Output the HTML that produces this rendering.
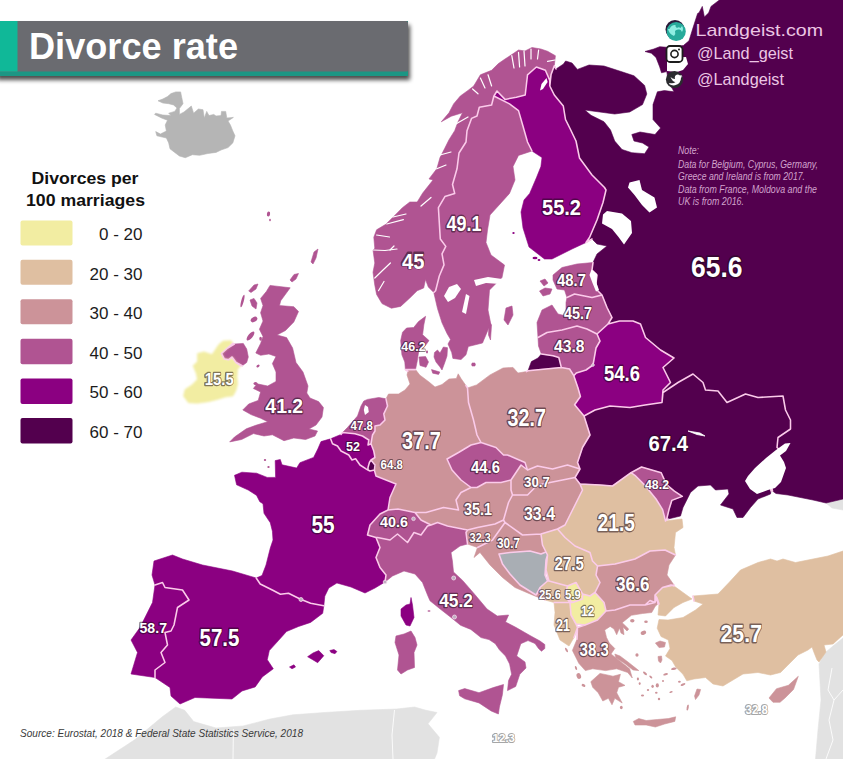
<!DOCTYPE html><html><head><meta charset="utf-8"><title>Divorce rate</title><style>
html,body{margin:0;padding:0;background:#fff;}body{width:843px;height:759px;overflow:hidden;position:relative;font-family:"Liberation Sans",sans-serif;}
svg{position:absolute;left:0;top:0;display:block}
.c{stroke:#fbcbea;stroke-width:1.4;stroke-linejoin:round}
.lb{font-family:"Liberation Sans",sans-serif;font-weight:bold;fill:#fff;}
.lg{font-family:"Liberation Sans",sans-serif;font-size:17px;fill:#1c1c1c;text-anchor:end}
.lt{font-family:"Liberation Sans",sans-serif;font-size:17px;font-weight:bold;fill:#111;text-anchor:middle}
.nt{font-family:"Liberation Sans",sans-serif;font-size:10px;font-style:italic;fill:#d2a3cd}
.so{font-family:"Liberation Sans",sans-serif;font-size:11px;font-style:italic;fill:#3a3a3a}
.tw{font-family:"Liberation Sans",sans-serif;font-size:17px;fill:#ecc6e4}
</style></head><body>
<svg width="843" height="759" viewBox="0 0 843 759">
<defs><filter id="sh" x="-20%" y="-20%" width="140%" height="160%"><feGaussianBlur in="SourceAlpha" stdDeviation="2.2"/><feOffset dx="2" dy="3.5"/><feComponentTransfer><feFuncA type="linear" slope=".7"/></feComponentTransfer><feMerge><feMergeNode/><feMergeNode in="SourceGraphic"/></feMerge></filter>
<filter id="halo" filterUnits="userSpaceOnUse" x="0" y="0" width="843" height="759"><feGaussianBlur stdDeviation=".55"/></filter><filter id="b1"><feGaussianBlur stdDeviation=".9"/></filter></defs>
<rect width="843" height="759" fill="#fff"/>
<path d="M96,765 L135,739.6 L162,717 L175.7,707 L184.7,710.3 L193.7,721.6 L216,728 L243,726 L270,719 L293,714.8 L324.4,712.5 L360.5,710.3 L396.6,709 L414.6,707 L426,710.3 L437,712.5 L428,723.8 L439.4,737.3 L437,753 L432,765Z" fill="#e2e2e2" stroke="#e2e2e2" stroke-width=".6" stroke-linejoin="round"/>
<path d="M826,652 L833,646 L843,638 L860,630 L860,765 L815,765 L818,730 L821,700 L819,664 L823,656Z" fill="#e2e2e2" stroke="#e2e2e2" stroke-width=".6" stroke-linejoin="round"/>
<path d="M826,503 L843,499 L860,499 L860,512 L843,510 L832,508Z" fill="#e2e2e2" stroke="#e2e2e2" stroke-width=".6" stroke-linejoin="round"/>
<path d="M158,100.8 L162.8,99 L167.5,96.6 L171,93.6 L175.8,91.9 L180.6,91.9 L181.8,97.8 L183,103.7 L179.4,108.5 L179.4,114.4 L184,112 L191.3,106 L193.6,113.2 L198.4,109 L203,109.7 L204.3,118 L206.7,111.4 L209,115.6 L213.8,114.4 L216,116 L221,115.6 L221.5,111.4 L225.7,111.4 L226.8,118 L233.4,117.4 L228,121 L230.4,125 L232.8,131 L235,135.8 L232.8,142.9 L228,147.6 L221,150 L216,152.4 L207.9,153.5 L199.6,155.3 L192.4,154.7 L185.3,157.7 L179.4,156 L174.7,152.4 L170,148.8 L168.7,142.9 L166.4,138 L156.9,135.8 L155.7,131.6 L160.4,134 L166.4,131 L165.2,125 L167.5,120.3 L161.6,118 L154.5,114.4 L155.7,113.2 L162.8,115 L171,115.6 L168.7,113.2 L174.7,111.4 L177,107.9 L173.5,104.9 L168.7,103.7 L162.8,103Z" fill="#b5b5b5" stroke="#b5b5b5" stroke-width=".6" stroke-linejoin="round"/>
<path d="M554.3,65.8 L556,69 L563.5,64 L565.6,61 L572,63 L577.4,69.4 L589,65 L604,66 L621,71.5 L634,75.8 L644.6,85.4 L646.8,94 L642.5,104.6 L629.7,112 L614.7,114 L599.8,112 L584.8,110 L591,115.3 L604,121.7 L610.5,130 L614.7,141 L622,149.5 L631.8,152.7 L644.6,153.7 L649,147 L642.5,143 L634,141 L631.8,134.5 L640,132 L655,134.5 L660.6,128 L653,119.6 L653,104.6 L657.4,91.8 L664.4,90.6 L674,91.8 L672,88 L668,80 L666.8,71.6 L661.5,72.8 L659.7,66.9 L656,57.4 L651.4,53.2 L645,51.5 L653.8,49 L659.7,46.7 L666.8,47.3 L683.4,45.5 L689,40.8 L693,27.8 L697.6,13.5 L699,12.8 L702.3,6.4 L704.4,17 L708.7,12.8 L711,6.4 L722,-2 L722,-10 L860,-10 L860,499 L843,499 L826,503 L813,500 L788,495 L776,493.5 L772.5,491 L770,480 L775,460 L780,450 L777,447.5 L778,437.5 L790.5,429 L790.5,420 L785.5,410 L783,396 L758,397.5 L745.5,394 L727,402.5 L718,391 L705.5,390 L703,382.5 L693,374 L678,382.5 L663,392.5 L662,402.5 L663,390 L670.5,382.5 L663,367.5 L674,358 L660.5,350 L645.5,337.5 L640.5,324 L633,321 L619.5,321 L608,324 L612,317.5 L607,307.5 L602,295 L597,290 L596,283 L597,275 L592,270 L593,262.5 L597,254 L607,246 L597,244 L592,239 L586,242.5 L589.5,237.5 L597,220 L603,202.5 L606,190 L604.5,187.5 L592,175 L579.5,158 L576,141 L570,128.5 L565.5,119.5 L563.3,106 L554.3,95 L549.8,86 L551,74.8Z" fill="#53004e" stroke="#53004e" stroke-width=".6" stroke-linejoin="round"/>
<path d="M528,370.7 L531.4,361.6 L538,358 L541.4,354 L553,355.8 L558.8,357.4 L561.3,367.4Z" fill="#53004e" stroke="#53004e" stroke-width=".6" stroke-linejoin="round"/>
<path d="M584,416 L595,410 L610,406 L630,407.5 L645,405 L662,402.5 L663,392.5 L678,382.5 L693,374 L703,382.5 L705.5,390 L718,391 L727,402.5 L745.5,394 L758,397.5 L783,396 L785.5,410 L790.5,420 L790.5,429 L778,437.5 L777,447.5 L780,450 L775,460 L770,480 L771,491 L770.5,494 L758,499 L750.5,507.5 L743,517.5 L737,517.5 L733,509 L720.5,505 L729,494 L728,489 L715.5,490 L710.5,485 L698,486 L690.5,492.5 L683,507.5 L680.5,516 L668,519 L665.5,521 L666.5,520 L669,509.6 L671.8,500.4 L682.3,496.4 L674.4,491.2 L666.5,484.6 L661.2,472.7 L641.5,467 L631,472.7 L612.5,486 L600,485 L580,484 L575,477.5 L580,469 L577.5,462.5 L582.5,447.5 L590,435Z" fill="#53004e" stroke="#53004e" stroke-width=".6" stroke-linejoin="round"/>
<path d="M593,365 L594.5,356.6 L596,348 L600,341 L597,334 L608,324 L619.5,321 L633,321 L640.5,324 L645.5,337.5 L660.5,350 L674,358 L663,367.5 L670.5,382.5 L663,390 L662,402.5 L645,405 L630,407.5 L610,406 L595,410 L584,416 L574.6,404.8 L580.4,396.5 L578,388 L573.8,375.7 L576.3,373 L586,370Z" fill="#8b0081" stroke="#8b0081" stroke-width=".6" stroke-linejoin="round"/>
<path d="M553,275 L562,267.5 L577,264 L593,262.5 L592,270 L597,275 L596,283 L597,290 L602,295 L592,297.5 L574.5,294 L567,297.5 L564.5,290 L557,289 L553,280Z" fill="#b05492" stroke="#b05492" stroke-width=".6" stroke-linejoin="round"/>
<path d="M539.5,291 L545,288 L552,289 L550,294 L543,296Z" fill="#b05492" stroke="#b05492" stroke-width=".6" stroke-linejoin="round"/>
<path d="M540,281 L545,279 L548,283 L544,286Z" fill="#b05492" stroke="#b05492" stroke-width=".6" stroke-linejoin="round"/>
<path d="M567,297.5 L574.5,294 L592,297.5 L602,295 L607,307.5 L612,317.5 L608,324 L597,334 L587,329 L577,326 L562,330 L547,332.5 L538,337.5 L537,322.5 L542,310 L552,305 L558,314 L566,316 L566,302.5Z" fill="#b05492" stroke="#b05492" stroke-width=".6" stroke-linejoin="round"/>
<path d="M538,337.5 L547,332.5 L562,330 L577,326 L587,329 L597,334 L600,341 L596,348 L594.5,356.6 L593,365 L586,370 L576.3,373 L573.8,375.7 L569.6,369 L561.3,367.4 L558.8,357.4 L553,355.8 L541.4,354 L538.5,346Z" fill="#b05492" stroke="#b05492" stroke-width=".6" stroke-linejoin="round"/>
<path d="M467.5,388 L476.6,384.9 L490,374.9 L503,368 L513,367.4 L518,373 L526.4,371.6 L528,370.7 L561.3,367.4 L569.6,369 L573.8,375.7 L578,388 L580.4,396.5 L574.6,404.8 L584,416 L590,435 L582.5,447.5 L577.5,462.5 L580,469 L567.5,465 L552.5,469 L537.5,466 L527.5,470 L525,462.5 L507.5,455 L503.5,455 L496,447.5 L481,442.5 L477,435 L473.5,420 L468.5,402.5Z" fill="#cc9399" stroke="#cc9399" stroke-width=".6" stroke-linejoin="round"/>
<path d="M405.4,369.6 L415.5,369.6 L419.7,375 L429,382 L435,387 L442,384.5 L449,379 L456.4,378.5 L458.2,373.8 L461,378.5 L466,385.7 L467.5,388 L468.5,402.5 L473.5,420 L477,435 L481,442.5 L471,445 L458.5,452.5 L447,459 L452,470 L461,480 L471,487.5 L461,492.5 L456,500 L458.5,510 L443.5,507.5 L426,512.5 L415,512.5 L398,509 L388,510 L390,497.5 L396,484 L376,476 L374.4,470 L375,465 L371,460 L375,457.5 L373.8,451 L371,443.8 L372.5,435 L375,431 L375,426 L380,425 L385,420 L383.8,413.8 L387.5,406 L386,398.8 L388.5,394 L398.5,394 L405,390 L410,384 L407,375 L407.8,371.4Z" fill="#cc9399" stroke="#cc9399" stroke-width=".6" stroke-linejoin="round"/>
<path d="M363.8,401 L367.5,399.4 L378.8,397.5 L386,398.8 L387.5,406 L383.8,413.8 L385,420 L380,425 L375,426 L375,431 L372.5,435 L371,443.8 L368,445 L368.8,440 L362.5,436 L355,433.8 L342.5,432.5 L347.5,427.5 L357.5,416 L361,406Z" fill="#b05492" stroke="#b05492" stroke-width=".6" stroke-linejoin="round"/>
<path d="M330.6,438.8 L341,434.4 L342.5,432.5 L355,433.8 L362.5,436 L368.8,440 L368,445 L371,443.8 L373.8,451 L375,457.5 L371,460 L369.4,462.5 L368,467.5 L368,470 L366,468.8 L360,465 L355.6,458.8 L352,460 L348.8,455 L341,451 L337.5,446 L332.5,443.8Z" fill="#8b0081" stroke="#8b0081" stroke-width=".6" stroke-linejoin="round"/>
<path d="M371,460 L375,465 L374.4,470 L370,471 L368,470 L368,467.5 L369.4,462.5Z" fill="#53004e" stroke="#53004e" stroke-width=".6" stroke-linejoin="round"/>
<path d="M405.4,369.6 L404.8,362 L401.9,354.8 L400.7,340.6 L402.5,332.3 L406.6,328 L413.7,327.5 L418.5,321.6 L425.6,316.3 L423.8,325 L422.6,334.7 L429,340.6 L425.6,345.3 L418.5,352.5 L417.3,360.8 L415.5,369.6Z" fill="#b05492" stroke="#b05492" stroke-width=".6" stroke-linejoin="round"/>
<path d="M419,357 L425.6,356.6 L428.5,362 L426,367.3 L420,365.5Z" fill="#b05492" stroke="#b05492" stroke-width=".6" stroke-linejoin="round"/>
<path d="M434.5,352.5 L437.5,350 L440,353 L443.4,347 L447.5,347.7 L447,356 L444.6,363 L442,370 L439.8,366.7 L436,362 L434,357Z" fill="#b05492" stroke="#b05492" stroke-width=".6" stroke-linejoin="round"/>
<path d="M431.5,369.6 L439.8,372 L438.6,374.4 L432.7,373.2Z" fill="#b05492" stroke="#b05492" stroke-width=".6" stroke-linejoin="round"/>
<path d="M472,363 L475,363 L475,366 L472,366Z" fill="#b05492" stroke="#b05492" stroke-width=".6" stroke-linejoin="round"/>
<path d="M554.3,65.8 L555.4,55.7 L547.6,51.3 L540.9,49 L532,47.5 L525,51 L518.5,50 L511.8,54.6 L505,59 L498.4,63.6 L491.6,70.3 L480.4,74.8 L473.7,86 L468,90.4 L460.3,96 L453.6,103.9 L449,112.8 L441.3,121.8 L451.3,116.2 L462.5,112.8 L458,121.8 L454.7,130.7 L449,139.7 L444.6,148.6 L440,157.6 L436.8,168.8 L429,178.9 L433,180 L422.7,193 L417.2,202 L409.8,202 L402.4,207.7 L393.2,217 L385.8,224.3 L376.6,229.8 L373.8,237.2 L374.8,248.3 L373,250 L374.8,263 L373,272.3 L374.8,285.2 L376.6,294.4 L382,303.6 L391.4,308.2 L400.6,306.4 L409.8,298 L417.2,290.7 L423.7,288 L425.5,279.6 L428.3,287 L433.8,292.5 L435.6,290.7 L439.3,276 L444,264.9 L442,253.8 L445.8,246.4 L440.3,239 L438.4,207.7 L444.9,196.6 L454.7,193.4 L452.5,184.5 L457,168.8 L459,153 L466,142 L467,130.7 L471.5,118.4 L477,116 L479.3,107.2 L491.6,105 L493.9,96 L497,91 L505,99.4 L516.3,97.2 L525.2,95 L527.5,74.8 L536.4,67 L545.4,70.3 L549.8,80.4 L549.8,86 L551,74.8Z" fill="#b05492" stroke="#b05492" stroke-width=".6" stroke-linejoin="round"/>
<path d="M493.9,96 L491.6,105 L479.3,107.2 L477,116 L471.5,118.4 L467,130.7 L466,142 L459,153 L457,168.8 L452.5,184.5 L454.7,193.4 L444.9,196.6 L438.4,207.7 L440.3,239 L445.8,246.4 L442,253.8 L444,264.9 L439.3,276 L435.6,290.7 L433.8,292.5 L437.5,308.6 L442,322.8 L447,333.5 L450.5,339.4 L448,344 L451.7,352.5 L452.9,358.4 L461,359.6 L466,354.8 L468.3,346.5 L482.5,343 L488.5,328.7 L491,325 L488,310 L489.5,290 L502,277.5 L504.5,265 L491,255 L486,242.5 L487.5,230 L490,215 L500,204 L509.5,193.4 L515,180 L513,166.6 L518.5,155.4 L532,151 L527.5,142 L523,126.3 L518.5,110.6 L509.5,103.9 L493.9,96Z" fill="#b05492" stroke="#b05492" stroke-width=".6" stroke-linejoin="round"/>
<path d="M506,308 L512,306 L513,315 L508,325 L504,320Z" fill="#b05492" stroke="#b05492" stroke-width=".6" stroke-linejoin="round"/>
<path d="M489,322 L491.5,325 L490.5,340 L488.5,335Z" fill="#b05492" stroke="#b05492" stroke-width=".6" stroke-linejoin="round"/>
<path d="M493.9,96 L497,91 L505,99.4 L516.3,97.2 L525.2,95 L527.5,74.8 L536.4,67 L545.4,70.3 L549.8,80.4 L549.8,86 L554.3,95 L563.3,106 L565.5,119.5 L570,128.5 L576,141 L579.5,158 L592,175 L604.5,187.5 L606,190 L603,202.5 L597,220 L589.5,237.5 L586,242.5 L572,249 L552,259 L544.5,259 L529,247 L523,228 L521,212 L524,200 L529.7,193.4 L536.4,177.8 L540.9,166.6 L542,157.6 L532,151 L527.5,142 L523,126.3 L518.5,110.6 L509.5,103.9Z" fill="#8b0081" stroke="#8b0081" stroke-width=".6" stroke-linejoin="round"/>
<path d="M270,285.4 L290.2,287.8 L280.7,300.8 L279.5,305.6 L293.8,306.7 L298.5,311.5 L293.8,322 L285.5,330.5 L277,335 L286.6,337.6 L292.6,348 L296,362.5 L303,372 L308,386 L306.8,393 L310,398 L318.6,401.6 L323.4,407.5 L322,417 L316,425 L309,429 L317.5,431 L315,436 L305.6,439.5 L293.8,438 L284,440.7 L272.4,434.8 L264,436 L253.5,433.6 L241.6,439.5 L229.7,441.9 L234.5,437 L246.3,428.8 L255.8,425.3 L267.7,421.7 L260.6,418.2 L251,414.6 L242.8,409.9 L248.7,404 L258.2,400.4 L260.6,392 L253.4,388.5 L257,383.8 L267.7,386 L276,381.4 L276,372 L272.4,363.6 L276,356.5 L268.9,354 L260.6,355.3 L255.8,353 L260.6,343.5 L263,336.4 L259.4,329.3 L263,321 L260.6,312.7 L263,305.6 L260.6,298.4 L266.5,291.3Z" fill="#b05492" stroke="#b05492" stroke-width=".6" stroke-linejoin="round"/>
<path d="M221.5,353.5 L227.6,348 L234.4,344 L243.3,343.4 L246.7,349 L248.3,357 L246.7,362.5 L242.2,365.8 L236,362.5 L232,357 L228.8,359.7 L224.3,359Z" fill="#b05492" stroke="#b05492" stroke-width=".6" stroke-linejoin="round"/>
<path d="M218.7,344.6 L223,341 L231,340.6 L233,343.4 L227.6,348 L221.5,353.5 L224.3,359 L228.8,359.7 L232,357 L236,362.5 L241,365.8 L237.7,369 L237,377 L237.7,383.8 L236,390.5 L233,396 L225.4,397 L217.6,399.4 L208.6,401.7 L197.4,403.3 L188.4,402.8 L183.4,396 L185,389.4 L191.8,384.9 L197.4,379.3 L196.3,373.7 L193,365.8 L197.4,361.4 L197.4,353.5 L204,351.8 L212,354.6 L216.4,348Z" fill="#f2eda2" stroke="#f2eda2" stroke-width=".6" stroke-linejoin="round" filter="url(#b1)"/>
<path d="M311,262 L314,252 L318,249 L316,258 L313,264Z" fill="#b05492" stroke="#b05492" stroke-width=".6" stroke-linejoin="round"/>
<path d="M290,280 L294,274.5 L298.5,273.5 L296,279 L292,282Z" fill="#b05492" stroke="#b05492" stroke-width=".6" stroke-linejoin="round"/>
<path d="M248.7,291 L254,285 L258,284 L256,289 L251,292.5Z" fill="#b05492" stroke="#b05492" stroke-width=".6" stroke-linejoin="round"/>
<path d="M250,300 L254,298.4 L257,303 L256,309 L252,306Z" fill="#b05492" stroke="#b05492" stroke-width=".6" stroke-linejoin="round"/>
<path d="M234.5,475.3 L241.9,472.2 L256.6,473.2 L267.2,477.4 L275.6,477.4 L275.2,460.6 L280.3,459.5 L282,464.8 L296.7,468 L299.9,462.7 L313.6,457.4 L317.8,449 L321,441.6 L330.6,438.8 L332.5,443.8 L337.5,446 L341,451 L348.8,455 L352,460 L355.6,458.8 L360,465 L366,468.8 L368,470 L370,471 L374.4,470 L376,476 L396,484 L390,497.5 L388,510 L380,514 L370,525 L367.5,535 L376,537.5 L380,547.5 L376,557.5 L380,567.5 L386,575 L385,582 L375,588 L365,593 L351,587 L336.9,583 L328.8,588 L324.8,596.2 L323.8,605.8 L310.6,603.3 L300.6,599.2 L288.5,593.2 L280.4,594.2 L272.3,590 L260.2,584 L256.2,578 L262,575.5 L266,565 L270.3,548 L273,540 L272.4,531.2 L270.3,522.8 L264,513.3 L263,503.8 L259.8,501.7 L256.6,495.4 L248.2,490 L236.6,484.8Z" fill="#8b0081" stroke="#8b0081" stroke-width=".6" stroke-linejoin="round"/>
<path d="M411,597.5 L412.5,605 L414,617.5 L410,626 L406,625 L401,616 L401,609 L406,605 L410,604Z" fill="#8b0081" stroke="#8b0081" stroke-width=".6" stroke-linejoin="round"/>
<path d="M154,561 L172.5,555 L182.5,559 L202.5,565 L232.5,571 L256.2,578 L260.2,584 L272.3,590 L280.4,594.2 L288.5,593.2 L300.6,599.2 L310.6,603.3 L323.8,605.8 L322.7,613.3 L310.6,622.4 L298.5,626.5 L286.5,631.5 L278.4,640.6 L269.3,650.6 L267.3,659.7 L273.3,668.8 L262.3,676.9 L255.2,686.9 L242,691 L232,699 L195,697.5 L180,704 L171,696 L170,687.5 L155,677.5 L155,670 L165,662.5 L161,652.5 L167.5,645 L165,632.5 L171,631 L174,625 L177.5,607.5 L189,600 L182.5,590 L165,587.5 L162.5,582.5 L155,585 L152,575Z" fill="#8b0081" stroke="#8b0081" stroke-width=".6" stroke-linejoin="round"/>
<path d="M155,585 L162.5,582.5 L165,587.5 L182.5,590 L189,600 L177.5,607.5 L174,625 L171,631 L165,632.5 L167.5,645 L161,652.5 L165,662.5 L155,670 L155,677.5 L131,674 L137.5,652.5 L131,640 L140,627.5 L152.5,602.5Z" fill="#8b0081" stroke="#8b0081" stroke-width=".6" stroke-linejoin="round"/>
<path d="M307.6,656.7 L313,653 L318.7,650.6 L323.8,655.7 L317.7,662.7 L312.7,659.7Z" fill="#8b0081" stroke="#8b0081" stroke-width=".6" stroke-linejoin="round"/>
<path d="M289.5,667 L294,664.8 L295.5,667 L292,668.8Z" fill="#8b0081" stroke="#8b0081" stroke-width=".6" stroke-linejoin="round"/>
<path d="M329.8,650.5 L334,649.6 L336.9,651.5 L335,653.7 L331,652.5Z" fill="#8b0081" stroke="#8b0081" stroke-width=".6" stroke-linejoin="round"/>
<path d="M388,510 L398,509 L415,512.5 L421,520 L431,525 L427.5,526 L421,535 L414,532.5 L407.5,542.5 L397.5,534 L390,540 L377.5,537.5 L376,537.5 L367.5,535 L370,525 L380,514Z" fill="#b05492" stroke="#b05492" stroke-width=".6" stroke-linejoin="round"/>
<path d="M471,487.5 L477,487.5 L486,482.5 L501,482.5 L511,480 L511,490 L512.5,495 L508.5,502.5 L503.5,520 L495,524 L477.5,527.5 L467.5,530 L447.5,526 L437.5,522.5 L431,525 L421,520 L415,512.5 L426,512.5 L443.5,507.5 L458.5,510 L456,500 L461,492.5Z" fill="#cc9399" stroke="#cc9399" stroke-width=".6" stroke-linejoin="round"/>
<path d="M481,442.5 L496,447.5 L503.5,455 L507.5,455 L525,462.5 L527.5,470 L521,465 L511,480 L501,482.5 L486,482.5 L477,487.5 L471,487.5 L461,480 L452,470 L447,459 L458.5,452.5 L471,445Z" fill="#b05492" stroke="#b05492" stroke-width=".6" stroke-linejoin="round"/>
<path d="M511,480 L521,465 L527.5,470 L537.5,466 L552.5,469 L567.5,465 L580,469 L575,477.5 L562.5,480 L537.5,485 L527.5,495 L512.5,495 L511,490Z" fill="#cc9399" stroke="#cc9399" stroke-width=".6" stroke-linejoin="round"/>
<path d="M512.5,495 L527.5,495 L537.5,485 L562.5,480 L575,477.5 L580,484 L582.5,490 L572.5,510 L565,525 L557.5,529 L541,534 L522.5,535 L505,522.5 L503.5,520 L508.5,502.5Z" fill="#cc9399" stroke="#cc9399" stroke-width=".6" stroke-linejoin="round"/>
<path d="M467.5,530 L477.5,527.5 L495,524 L503.5,520 L505,522.5 L492.5,540 L477.5,547.5 L467.5,544 L466,532.5Z" fill="#cc9399" stroke="#cc9399" stroke-width=".6" stroke-linejoin="round"/>
<path d="M477.5,547.5 L492.5,540 L505,522.5 L522.5,535 L541,534 L542.5,545 L546,552 L541,554 L530,551 L510,552.5 L499,554 L502.5,564 L510,574 L520,585 L536,595 L540,590 L545,600 L532.5,595 L515,587.5 L502.5,577.5 L490,565 L480,552.5 L474,557.5Z" fill="#cc9399" stroke="#cc9399" stroke-width=".6" stroke-linejoin="round"/>
<path d="M499,554 L510,552.5 L530,551 L541,554 L546,552 L547.5,555 L546,560 L545,575 L547.5,581 L540,587.5 L536,595 L520,585 L510,574 L502.5,564Z" fill="#a9aeb4" stroke="#a9aeb4" stroke-width=".6" stroke-linejoin="round"/>
<path d="M385,582 L392.5,576 L404,571 L415,574 L422.5,582.5 L427.5,595 L430,600.8 L440.2,609 L450.4,617 L460.6,625.3 L470.8,629.4 L481,637.6 L489,639.6 L495.3,643.7 L499.4,649.8 L505.5,656 L509.6,664 L511.6,674.3 L508.6,680.4 L507.5,690.6 L515.7,686.5 L519.8,674.3 L526,668 L525,662 L516.7,656 L520.8,643.7 L528,640.6 L535,643.5 L538.5,648.5 L541.5,651.2 L544.8,648.5 L544.8,644.5 L540,641 L530,635.5 L515.7,627.3 L505.5,622 L508.6,615 L497.3,616 L487,609 L475,594.7 L462.6,580.4 L453.5,572 L452.4,561 L451,552.5 L460,546 L467.5,544 L466,532.5 L467.5,530 L447.5,526 L437.5,522.5 L431,525 L427.5,526 L421,535 L414,532.5 L407.5,542.5 L397.5,534 L390,540 L377.5,537.5 L376,537.5 L380,547.5 L376,557.5 L380,567.5 L386,575Z" fill="#b05492" stroke="#b05492" stroke-width=".6" stroke-linejoin="round"/>
<path d="M458.6,690.6 L464.7,688.6 L479,692.7 L493.3,687.6 L503.5,684.5 L502.4,694.7 L499.4,707 L498.4,714 L491.2,711 L479,702.9 L464.7,698.8 L459.6,695.7Z" fill="#b05492" stroke="#b05492" stroke-width=".6" stroke-linejoin="round"/>
<path d="M404,634 L411,631 L415,637.5 L417,645 L414,652.5 L414.5,667.5 L407.5,670 L401,674 L397.5,670 L399,655 L395,642.5 L396,636Z" fill="#b05492" stroke="#b05492" stroke-width=".6" stroke-linejoin="round"/>
<path d="M541,534 L557.5,529 L565,537.5 L575,546 L590,552.5 L592.5,561 L597.5,566 L596,575 L600,582.5 L595,592.5 L590,596 L582.5,594 L576,582.5 L567.5,586 L560,584 L549,581 L546,570 L547.5,555 L546,552 L542.5,545Z" fill="#dfbfa1" stroke="#dfbfa1" stroke-width=".6" stroke-linejoin="round"/>
<path d="M576,582.5 L582.5,594 L582.5,599 L572.5,602.5 L565,596 L567.5,586Z" fill="#f2eda2" stroke="#f2eda2" stroke-width=".6" stroke-linejoin="round"/>
<path d="M549,581 L560,584 L567.5,586 L565,596 L570,602.5 L554,602.5 L545,600 L540,590 L540,587.5 L547.5,581Z" fill="#dfbfa1" stroke="#dfbfa1" stroke-width=".6" stroke-linejoin="round"/>
<path d="M554,602.5 L570,602.5 L571,615 L576,624 L577.5,627.5 L574,637.5 L569,646 L560,640 L554,625 L555,612.5Z" fill="#dfbfa1" stroke="#dfbfa1" stroke-width=".6" stroke-linejoin="round"/>
<path d="M570,602.5 L572.5,602.5 L582.5,599 L582.5,594 L590,596 L595,592.5 L604,602.5 L606,611 L597.5,620 L585,625 L576,624 L571,615Z" fill="#f2eda2" stroke="#f2eda2" stroke-width=".6" stroke-linejoin="round"/>
<path d="M597.5,566 L615,564 L635,559 L650,551 L665,550 L675.5,555 L669,565 L667,575 L674,585 L662.5,587.5 L655,595 L655,602.5 L645,605 L630,605 L615,610 L606,611 L604,602.5 L595,592.5 L600,582.5 L596,575Z" fill="#cc9399" stroke="#cc9399" stroke-width=".6" stroke-linejoin="round"/>
<path d="M580,484 L600,485 L612.5,486 L631,472.7 L634.9,475.3 L645.4,485.9 L656,499 L662.6,509.6 L665.5,521 L682,519 L683,527.5 L675.5,532.5 L674,547.5 L675.5,555 L665,550 L650,551 L635,559 L615,564 L597.5,566 L592.5,561 L590,552.5 L575,546 L565,537.5 L557.5,529 L565,525 L572.5,510 L582.5,490Z" fill="#dfbfa1" stroke="#dfbfa1" stroke-width=".6" stroke-linejoin="round"/>
<path d="M631,472.7 L641.5,467 L661.2,472.7 L666.5,484.6 L674.4,491.2 L682.3,496.4 L671.8,500.4 L669,509.6 L666.5,520 L665.5,521 L662.6,509.6 L656,499 L645.4,485.9 L634.9,475.3Z" fill="#b05492" stroke="#b05492" stroke-width=".6" stroke-linejoin="round"/>
<path d="M572.4,650.4 L577,639.3 L577.5,627.5 L585,625 L597.5,620 L606,611 L615,610 L630,605 L645,605 L650,600.5 L655,602.5 L657,598 L658,604 L655.4,606 L651.7,612.5 L642.5,613.5 L631.4,615.3 L622.2,622.7 L628.7,629 L627,631 L623,627 L624,634.7 L621,633 L619.5,628 L616.7,634.7 L614,629 L610.2,626.4 L604.7,630 L606.5,637.4 L609.3,643 L614.8,648.5 L611,654 L620.4,661.4 L629.6,668.8 L632.3,678 L627.7,672.5 L616.7,668.8 L605.6,670.6 L592.7,668.8 L585.3,670.6 L578.8,663.3Z" fill="#cc9399" stroke="#cc9399" stroke-width=".6" stroke-linejoin="round"/>
<path d="M590.8,681.7 L600,673.4 L613,676.2 L620.4,674.3 L618.5,681.7 L625,685.4 L618.5,687.3 L616.7,692.8 L622.2,703 L614.8,698.3 L612,704.8 L608.4,698.3 L602.8,701 L598.2,692.8 L592.7,687.3Z" fill="#cc9399" stroke="#cc9399" stroke-width=".6" stroke-linejoin="round"/>
<path d="M633.3,721.4 L638.8,718.6 L646.2,720.5 L657.3,719.5 L668.3,718.6 L675.7,716.8 L674.8,721.4 L664.6,724 L655.4,727 L646.2,725 L635,725Z" fill="#cc9399" stroke="#cc9399" stroke-width=".6" stroke-linejoin="round"/>
<path d="M697,689 L700.6,689.5 L699,695 L695.5,699.5 L694.5,696Z" fill="#cc9399" stroke="#cc9399" stroke-width=".6" stroke-linejoin="round"/>
<path d="M655.4,643 L660,641 L665.5,642.5 L664.5,647 L659,647.6 L657,645Z" fill="#cc9399" stroke="#cc9399" stroke-width=".6" stroke-linejoin="round"/>
<path d="M658,656.5 L661.5,656 L662,660 L660.5,663 L658.5,661Z" fill="#cc9399" stroke="#cc9399" stroke-width=".6" stroke-linejoin="round"/>
<path d="M614.8,654 L620,656 L628,662 L638.8,670.6 L633,670 L624,663 L616,658Z" fill="#cc9399" stroke="#cc9399" stroke-width=".6" stroke-linejoin="round"/>
<path d="M769,698 L776.5,688.7 L788.4,685.3 L798.3,676.3 L793.5,689.5 L785,698 L780,702.3 L773,702.3Z" fill="#cc9399" stroke="#cc9399" stroke-width=".6" stroke-linejoin="round"/>
<path d="M693,596 L718,594 L729,582.5 L740.5,570 L758,562.5 L770.5,559 L777,561 L783,559 L795.5,562.5 L808,560 L828,556 L843,551 L860,548 L860,636 L843,635 L833,644 L824,645 L826,652 L819,662 L817,660 L814,652.5 L812,647 L808,650 L798,655 L788,665 L780.5,672.5 L770.5,675 L758,672.5 L743,674 L733,680 L723,686 L713,684 L705.5,677.5 L694,679 L686.8,680.8 L683,674.3 L675.7,667 L672,660.5 L665.5,656 L670,648.5 L668.3,640 L661,636.5 L657.2,628.2 L659,619.5 L668,620 L683,617.5 L695.5,610 L703,604 L694,601Z" fill="#dfbfa1" stroke="#dfbfa1" stroke-width=".6" stroke-linejoin="round"/>
<path d="M657,598 L655,595 L662.5,587.5 L671,585 L674,586 L683,592.5 L692,599 L683,602.5 L674,607.5 L665.5,616 L658,615 L659,604Z" fill="#dfbfa1" stroke="#dfbfa1" stroke-width=".6" stroke-linejoin="round"/>
<ellipse cx="632.3" cy="620.8" rx="2.2" ry="1.8" fill="#cc9399"/>
<ellipse cx="646" cy="621.8" rx="1.8" ry="1.2" fill="#cc9399"/>
<ellipse cx="643.4" cy="632.8" rx="2.8" ry="2" fill="#cc9399" transform="rotate(-20 643.4 632.8)"/>
<ellipse cx="673.9" cy="668.8" rx="2.8" ry="1.2" fill="#cc9399" transform="rotate(-10 673.9 668.8)"/>
<ellipse cx="665.6" cy="674.3" rx="2.4" ry="1" fill="#cc9399" transform="rotate(-15 665.6 674.3)"/>
<ellipse cx="637" cy="655" rx="1.6" ry="1.8" fill="#cc9399"/>
<ellipse cx="645" cy="673.4" rx="2.4" ry="1.1" fill="#cc9399" transform="rotate(40 645 673.4)"/>
<ellipse cx="650.8" cy="677" rx="1.8" ry="0.9" fill="#cc9399" transform="rotate(40 650.8 677)"/>
<ellipse cx="657.3" cy="685.4" rx="1.6" ry="2.1" fill="#cc9399"/>
<ellipse cx="652.6" cy="686.3" rx="1.2" ry="1.6" fill="#cc9399"/>
<ellipse cx="637.9" cy="679" rx="1.1" ry="1.4" fill="#cc9399"/>
<ellipse cx="639.7" cy="683.6" rx="1" ry="1.4" fill="#cc9399"/>
<ellipse cx="642.5" cy="695.5" rx="1.6" ry="1.1" fill="#cc9399"/>
<ellipse cx="656.3" cy="692.8" rx="1.3" ry="1" fill="#cc9399"/>
<ellipse cx="659" cy="699" rx="1.2" ry="1.2" fill="#cc9399"/>
<ellipse cx="683" cy="684.5" rx="2.6" ry="1" fill="#cc9399" transform="rotate(-25 683 684.5)"/>
<ellipse cx="679.4" cy="681.7" rx="1.4" ry="1" fill="#cc9399"/>
<ellipse cx="687.7" cy="707.5" rx="1" ry="3" fill="#cc9399" transform="rotate(10 687.7 707.5)"/>
<ellipse cx="671" cy="692" rx="1.8" ry="0.9" fill="#cc9399" transform="rotate(-20 671 692)"/>
<ellipse cx="648" cy="690" rx="1.2" ry="1" fill="#cc9399"/>
<ellipse cx="663" cy="681" rx="1" ry="1" fill="#cc9399"/>
<ellipse cx="578.8" cy="676" rx="2.2" ry="3" fill="#cc9399" transform="rotate(-20 578.8 676)"/>
<ellipse cx="583.5" cy="685.4" rx="2" ry="1.4" fill="#cc9399" transform="rotate(30 583.5 685.4)"/>
<ellipse cx="566.5" cy="650" rx="1" ry="2.5" fill="#cc9399" transform="rotate(-30 566.5 650)"/>
<ellipse cx="621.3" cy="707.5" rx="1.4" ry="1.8" fill="#cc9399"/>
<ellipse cx="576" cy="668" rx="1" ry="2" fill="#cc9399" transform="rotate(-20 576 668)"/>
<ellipse cx="268.5" cy="214" rx="1.6" ry="2.5" fill="#b05492" transform="rotate(10 268.5 214)"/>
<ellipse cx="270" cy="220" rx="0.8" ry="1.2" fill="#b05492"/>
<ellipse cx="242.5" cy="301" rx="1.3" ry="6.5" fill="#b05492" transform="rotate(15 242.5 301)"/>
<ellipse cx="254" cy="319.5" rx="3.6" ry="2.4" fill="#b05492" transform="rotate(-30 254 319.5)"/>
<ellipse cx="250.5" cy="336" rx="2.2" ry="5.5" fill="#b05492" transform="rotate(40 250.5 336)"/>
<ellipse cx="260.6" cy="338.8" rx="1.3" ry="2" fill="#b05492"/>
<ellipse cx="258" cy="366" rx="1.8" ry="1.1" fill="#b05492" transform="rotate(-35 258 366)"/>
<ellipse cx="255.5" cy="383.5" rx="2" ry="1.5" fill="#b05492"/>
<ellipse cx="265" cy="460" rx="1.2" ry="1" fill="#b05492"/>
<ellipse cx="268.5" cy="467" rx="1.2" ry="1" fill="#b05492"/>
<ellipse cx="473.5" cy="364.5" rx="2" ry="1.6" fill="#b05492"/>
<ellipse cx="513.5" cy="233" rx="1.2" ry="1" fill="#8b0081"/>
<ellipse cx="535" cy="258" rx="2.5" ry="1.2" fill="#8b0081"/>
<ellipse cx="539" cy="260" rx="1.4" ry="1" fill="#8b0081"/>
<ellipse cx="424" cy="343" rx="1.3" ry="1" fill="#b05492"/>
<ellipse cx="427" cy="352" rx="1" ry="1.4" fill="#b05492"/>
<ellipse cx="429" cy="611" rx="1.5" ry="0.8" fill="#b05492"/>
<path d="M772.5,491 L770,480 L775,460 L780,450 L777,447.5 L778,437.5 L790.5,429 L790.5,420 L785.5,410 L783,396 L758,397.5 L745.5,394 L727,402.5 L718,391 L705.5,390 L703,382.5 L693,374 L678,382.5 L663,392.5 L662,402.5 L663,390 L670.5,382.5 L663,367.5 L674,358 L660.5,350 L645.5,337.5 L640.5,324 L633,321 L619.5,321 L608,324 L612,317.5 L607,307.5 L602,295 L597,290 L596,283 L597,275 L592,270 L593,262.5 M592,239 L586,242.5 L589.5,237.5 L597,220 L603,202.5 L606,190 L604.5,187.5 L592,175 L579.5,158 L576,141 L570,128.5 L565.5,119.5 L563.3,106 L554.3,95 L549.8,86 L551,74.8 L554.3,65.8 L556,69 M541.4,354 L553,355.8 L558.8,357.4 L561.3,367.4 L528,370.7 M668,519 L665.5,521 L666.5,520 L669,509.6 L671.8,500.4 L682.3,496.4 L674.4,491.2 L666.5,484.6 L661.2,472.7 L641.5,467 L631,472.7 L612.5,486 L600,485 L580,484 L575,477.5 L580,469 L577.5,462.5 L582.5,447.5 L590,435 L584,416 L595,410 L610,406 L630,407.5 L645,405 L662,402.5 L663,392.5 L678,382.5 L693,374 L703,382.5 L705.5,390 L718,391 L727,402.5 L745.5,394 L758,397.5 L783,396 L785.5,410 L790.5,420 L790.5,429 L778,437.5 L777,447.5 L780,450 L775,460 L770,480 L771,491 M593,365 L594.5,356.6 L596,348 L600,341 L597,334 L608,324 L619.5,321 L633,321 L640.5,324 L645.5,337.5 L660.5,350 L674,358 L663,367.5 L670.5,382.5 L663,390 L662,402.5 L645,405 L630,407.5 L610,406 L595,410 L584,416 L574.6,404.8 L580.4,396.5 L578,388 L573.8,375.7 L576.3,373 L586,370Z M593,262.5 L592,270 L597,275 L596,283 L597,290 L602,295 L592,297.5 L574.5,294 L567,297.5 M567,297.5 L574.5,294 L592,297.5 L602,295 L607,307.5 L612,317.5 L608,324 L597,334 L587,329 L577,326 L562,330 L547,332.5 L538,337.5 M538,337.5 L547,332.5 L562,330 L577,326 L587,329 L597,334 L600,341 L596,348 L594.5,356.6 L593,365 L586,370 L576.3,373 L573.8,375.7 L569.6,369 L561.3,367.4 L558.8,357.4 L553,355.8 L541.4,354 M526.4,371.6 L528,370.7 L561.3,367.4 L569.6,369 L573.8,375.7 L578,388 L580.4,396.5 L574.6,404.8 L584,416 L590,435 L582.5,447.5 L577.5,462.5 L580,469 L567.5,465 L552.5,469 L537.5,466 L527.5,470 L525,462.5 L507.5,455 L503.5,455 L496,447.5 L481,442.5 L477,435 L473.5,420 L468.5,402.5 L467.5,388 M466,385.7 L467.5,388 L468.5,402.5 L473.5,420 L477,435 L481,442.5 L471,445 L458.5,452.5 L447,459 L452,470 L461,480 L471,487.5 L461,492.5 L456,500 L458.5,510 L443.5,507.5 L426,512.5 L415,512.5 L398,509 L388,510 L390,497.5 L396,484 L376,476 L374.4,470 L375,465 L371,460 L375,457.5 L373.8,451 L371,443.8 L372.5,435 L375,431 L375,426 L380,425 L385,420 L383.8,413.8 L387.5,406 L386,398.8 M407.8,371.4 L405.4,369.6 L415.5,369.6 M386,398.8 L387.5,406 L383.8,413.8 L385,420 L380,425 L375,426 L375,431 L372.5,435 L371,443.8 L368,445 L368.8,440 L362.5,436 L355,433.8 L342.5,432.5 M341,434.4 L342.5,432.5 L355,433.8 L362.5,436 L368.8,440 L368,445 L371,443.8 L373.8,451 L375,457.5 L371,460 L369.4,462.5 L368,467.5 L368,470 L366,468.8 L360,465 L355.6,458.8 L352,460 L348.8,455 L341,451 L337.5,446 L332.5,443.8 L330.6,438.8 M371,460 L375,465 L374.4,470 L370,471 L368,470 L368,467.5 L369.4,462.5Z M415.5,369.6 L405.4,369.6 M433.8,292.5 L435.6,290.7 L439.3,276 L444,264.9 L442,253.8 L445.8,246.4 L440.3,239 L438.4,207.7 L444.9,196.6 L454.7,193.4 L452.5,184.5 L457,168.8 L459,153 L466,142 L467,130.7 L471.5,118.4 L477,116 L479.3,107.2 L491.6,105 L493.9,96 L497,91 L505,99.4 L516.3,97.2 L525.2,95 L527.5,74.8 L536.4,67 L545.4,70.3 L549.8,80.4 L549.8,86 L551,74.8 L554.3,65.8 M532,151 L527.5,142 L523,126.3 L518.5,110.6 L509.5,103.9 L493.9,96 L493.9,96 L491.6,105 L479.3,107.2 L477,116 L471.5,118.4 L467,130.7 L466,142 L459,153 L457,168.8 L452.5,184.5 L454.7,193.4 L444.9,196.6 L438.4,207.7 L440.3,239 L445.8,246.4 L442,253.8 L444,264.9 L439.3,276 L435.6,290.7 L433.8,292.5 M532,151 L527.5,142 L523,126.3 L518.5,110.6 L509.5,103.9 L493.9,96 L497,91 L505,99.4 L516.3,97.2 L525.2,95 L527.5,74.8 L536.4,67 L545.4,70.3 L549.8,80.4 L549.8,86 L554.3,95 L563.3,106 L565.5,119.5 L570,128.5 L576,141 L579.5,158 L592,175 L604.5,187.5 L606,190 L603,202.5 L597,220 L589.5,237.5 L586,242.5 M242.2,365.8 L236,362.5 L232,357 L228.8,359.7 L224.3,359 L221.5,353.5 L227.6,348 L234.4,344 M233,343.4 L227.6,348 L221.5,353.5 L224.3,359 L228.8,359.7 L232,357 L236,362.5 L241,365.8 M330.6,438.8 L332.5,443.8 L337.5,446 L341,451 L348.8,455 L352,460 L355.6,458.8 L360,465 L366,468.8 L368,470 L370,471 L374.4,470 L376,476 L396,484 L390,497.5 L388,510 L380,514 L370,525 L367.5,535 L376,537.5 L380,547.5 L376,557.5 L380,567.5 L386,575 L385,582 M323.8,605.8 L310.6,603.3 L300.6,599.2 L288.5,593.2 L280.4,594.2 L272.3,590 L260.2,584 L256.2,578 M256.2,578 L260.2,584 L272.3,590 L280.4,594.2 L288.5,593.2 L300.6,599.2 L310.6,603.3 L323.8,605.8 M155,677.5 L155,670 L165,662.5 L161,652.5 L167.5,645 L165,632.5 L171,631 L174,625 L177.5,607.5 L189,600 L182.5,590 L165,587.5 L162.5,582.5 L155,585 M155,585 L162.5,582.5 L165,587.5 L182.5,590 L189,600 L177.5,607.5 L174,625 L171,631 L165,632.5 L167.5,645 L161,652.5 L165,662.5 L155,670 L155,677.5 M388,510 L398,509 L415,512.5 L421,520 L431,525 L427.5,526 L421,535 L414,532.5 L407.5,542.5 L397.5,534 L390,540 L377.5,537.5 L376,537.5 L367.5,535 L370,525 L380,514Z M471,487.5 L477,487.5 L486,482.5 L501,482.5 L511,480 L511,490 L512.5,495 L508.5,502.5 L503.5,520 L495,524 L477.5,527.5 L467.5,530 L447.5,526 L437.5,522.5 L431,525 L421,520 L415,512.5 L426,512.5 L443.5,507.5 L458.5,510 L456,500 L461,492.5Z M481,442.5 L496,447.5 L503.5,455 L507.5,455 L525,462.5 L527.5,470 L521,465 L511,480 L501,482.5 L486,482.5 L477,487.5 L471,487.5 L461,480 L452,470 L447,459 L458.5,452.5 L471,445Z M511,480 L521,465 L527.5,470 L537.5,466 L552.5,469 L567.5,465 L580,469 L575,477.5 L562.5,480 L537.5,485 L527.5,495 L512.5,495 L511,490Z M512.5,495 L527.5,495 L537.5,485 L562.5,480 L575,477.5 L580,484 L582.5,490 L572.5,510 L565,525 L557.5,529 L541,534 L522.5,535 L505,522.5 L503.5,520 L508.5,502.5Z M467.5,544 L466,532.5 L467.5,530 L477.5,527.5 L495,524 L503.5,520 L505,522.5 L492.5,540 L477.5,547.5 M477.5,547.5 L492.5,540 L505,522.5 L522.5,535 L541,534 L542.5,545 L546,552 L541,554 L530,551 L510,552.5 L499,554 L502.5,564 L510,574 L520,585 L536,595 L540,590 L545,600 M499,554 L510,552.5 L530,551 L541,554 L546,552 L547.5,555 L546,560 L545,575 L547.5,581 L540,587.5 L536,595 L520,585 L510,574 L502.5,564Z M467.5,544 L466,532.5 L467.5,530 L447.5,526 L437.5,522.5 L431,525 L427.5,526 L421,535 L414,532.5 L407.5,542.5 L397.5,534 L390,540 L377.5,537.5 L376,537.5 L380,547.5 L376,557.5 L380,567.5 L386,575 L385,582 M541,534 L557.5,529 L565,537.5 L575,546 L590,552.5 L592.5,561 L597.5,566 L596,575 L600,582.5 L595,592.5 L590,596 L582.5,594 L576,582.5 L567.5,586 L560,584 L549,581 L546,570 L547.5,555 L546,552 L542.5,545Z M576,582.5 L582.5,594 L582.5,599 L572.5,602.5 L565,596 L567.5,586Z M545,600 L540,590 L540,587.5 L547.5,581 L549,581 L560,584 L567.5,586 L565,596 L570,602.5 L554,602.5 M554,602.5 L570,602.5 L571,615 L576,624 L577.5,627.5 L574,637.5 M570,602.5 L572.5,602.5 L582.5,599 L582.5,594 L590,596 L595,592.5 L604,602.5 L606,611 L597.5,620 L585,625 L576,624 L571,615Z M674,585 L662.5,587.5 L655,595 L655,602.5 L645,605 L630,605 L615,610 L606,611 L604,602.5 L595,592.5 L600,582.5 L596,575 L597.5,566 L615,564 L635,559 L650,551 L665,550 L675.5,555 M675.5,555 L665,550 L650,551 L635,559 L615,564 L597.5,566 L592.5,561 L590,552.5 L575,546 L565,537.5 L557.5,529 L565,525 L572.5,510 L582.5,490 L580,484 L600,485 L612.5,486 L631,472.7 L634.9,475.3 L645.4,485.9 L656,499 L662.6,509.6 L665.5,521 M631,472.7 L641.5,467 L661.2,472.7 L666.5,484.6 L674.4,491.2 L682.3,496.4 L671.8,500.4 L669,509.6 L666.5,520 L665.5,521 L662.6,509.6 L656,499 L645.4,485.9 L634.9,475.3Z M577,639.3 L577.5,627.5 L585,625 L597.5,620 L606,611 L615,610 L630,605 L645,605 L650,600.5 L655,602.5 L657,598 L658,604 M694,601 L693,596 M659,604 L657,598 L655,595 L662.5,587.5 L671,585 L674,586" fill="none" stroke="#fbcbea" stroke-width="1.55" stroke-linejoin="round" stroke-linecap="round"/>
<path d="M607,211 L622,213.5 L631,221 L632,233 L624,244.5 L618.5,237 L612,229 L602,223.5 L603,214.5Z" fill="#fff"/>
<path d="M591.5,269.5 L597,274 L596.5,283 L599,290 L596,291.5 L592.5,283 L589.5,275Z" fill="#fff"/>
<path d="M629.5,182.5 L639.5,180 L642,190 L654.5,197.5 L657,207.5 L649.5,212.5 L642,205 L634.5,195 L628,187.5Z" fill="#fff"/>
<path d="M667,58 L686,57 L688,64 L683,70 L677,72 L667,71Z" fill="#fff"/>
<path d="M790.5,443 L786,451 L780,455.5 L784,462 L786,468 L781,482 L775,488 L768,490 L757,494 L750,489 L745,481 L748,476 L755,468 L766,458 L776,450 L785,443.5Z" fill="#fff"/>
<path d="M365,405 L368,407 L368.8,412 L365,415 L363.8,410Z" fill="#fff"/>
<path d="M444,296 L449,287 L457,284 L461,289 L455,298 L448,302Z" fill="#fff"/>
<path d="M466,294 L469.5,296 L466,314 L462,312Z" fill="#fff"/>
<path d="M474,280 L488,277 L502,279 L500,284 L486,283 L476,286Z" fill="#fff"/>
<path d="M373,250 L385,250.5 L397,249" fill="none" stroke="#fff" stroke-width="1.2" stroke-linecap="round" stroke-linejoin="round"/>
<path d="M390,250 L394,246" fill="none" stroke="#fff" stroke-width="1.2" stroke-linecap="round" stroke-linejoin="round"/>
<path d="M376.6,235 L389.5,237" fill="none" stroke="#fff" stroke-width="1.2" stroke-linecap="round" stroke-linejoin="round"/>
<path d="M374.8,278 L383,270 L390.4,263" fill="none" stroke="#fff" stroke-width="1.2" stroke-linecap="round" stroke-linejoin="round"/>
<path d="M378.5,290.7 L384,281.5" fill="none" stroke="#fff" stroke-width="1.2" stroke-linecap="round" stroke-linejoin="round"/>
<path d="M386.8,224 L403.4,219.7" fill="none" stroke="#fff" stroke-width="1.2" stroke-linecap="round" stroke-linejoin="round"/>
<path d="M393,217 L406,214" fill="none" stroke="#fff" stroke-width="1.2" stroke-linecap="round" stroke-linejoin="round"/>
<path d="M421,206 L431,197.5" fill="none" stroke="#fff" stroke-width="1.2" stroke-linecap="round" stroke-linejoin="round"/>
<path d="M524,51 L525,66" fill="none" stroke="#fff" stroke-width="1.2" stroke-linecap="round" stroke-linejoin="round"/>
<path d="M531,49 L531,59" fill="none" stroke="#fff" stroke-width="1.2" stroke-linecap="round" stroke-linejoin="round"/>
<path d="M538.6,50 L537.5,59" fill="none" stroke="#fff" stroke-width="1.2" stroke-linecap="round" stroke-linejoin="round"/>
<path d="M518.5,52.4 L519.6,67" fill="none" stroke="#fff" stroke-width="1.2" stroke-linecap="round" stroke-linejoin="round"/>
<path d="M511.8,55.7 L514,68" fill="none" stroke="#fff" stroke-width="1.2" stroke-linecap="round" stroke-linejoin="round"/>
<path d="M555,60 L547.6,61.3" fill="none" stroke="#fff" stroke-width="1.2" stroke-linecap="round" stroke-linejoin="round"/>
<path d="M488,74.8 L491.6,86" fill="none" stroke="#fff" stroke-width="1.2" stroke-linecap="round" stroke-linejoin="round"/>
<path d="M480.4,78 L485,88" fill="none" stroke="#fff" stroke-width="1.2" stroke-linecap="round" stroke-linejoin="round"/>
<path d="M472.6,89 L478,93.8" fill="none" stroke="#fff" stroke-width="1.2" stroke-linecap="round" stroke-linejoin="round"/>
<path d="M455.8,124 L468,117" fill="none" stroke="#fff" stroke-width="1.2" stroke-linecap="round" stroke-linejoin="round"/>
<path d="M440,155 L451,152" fill="none" stroke="#fff" stroke-width="1.2" stroke-linecap="round" stroke-linejoin="round"/>
<path d="M436.8,168.8 L446,165" fill="none" stroke="#fff" stroke-width="1.2" stroke-linecap="round" stroke-linejoin="round"/>
<path d="M546.5,78 L547.6,82 L543,89 L540,90.4 L541.5,84Z" fill="#fff"/>

<g fill="#bfb0c0" stroke="#f3d9ec" stroke-width=".8"><circle cx="301" cy="599.5" r="2"/><circle cx="385" cy="582" r="1.8"/><circle cx="453.7" cy="578" r="2"/><circle cx="454.5" cy="617" r="2"/><circle cx="413.5" cy="518.8" r="1.8"/><circle cx="593" cy="365" r="1.3"/></g>
<path d="M688,431 L700,433 L705,436 L697,434.5 Z" fill="#fff" stroke="#fff" stroke-width=".8" stroke-linejoin="round"/>
<path d="M233.4,729 L233,759 M394.5,710 L392,735 L393,759 M832,668 L828,690 L834,700 L829,720 L833,740 L826,759 M843,690 L834,700" stroke="#fff" stroke-width="1" fill="none" opacity=".85"/>

<g filter="url(#halo)" transform="translate(-0.35,-0.2)" style="stroke-linejoin:round;opacity:.52">
<text class="lb" style="fill:#1c0a18;stroke:#1c0a18;stroke-width:3.33" x="691" y="277.4" font-size="28.89" textLength="51.5" lengthAdjust="spacingAndGlyphs">65.6</text>
<text class="lb" style="fill:#1c0a18;stroke:#1c0a18;stroke-width:2.88" x="648.5" y="451.4" font-size="22.47" textLength="39.5" lengthAdjust="spacingAndGlyphs">67.4</text>
<text class="lb" style="fill:#1c0a18;stroke:#1c0a18;stroke-width:2.88" x="542" y="215.4" font-size="22.47" textLength="39" lengthAdjust="spacingAndGlyphs">55.2</text>
<text class="lb" style="fill:#1c0a18;stroke:#1c0a18;stroke-width:2.80" x="446.5" y="230.9" font-size="21.4" textLength="35" lengthAdjust="spacingAndGlyphs">49.1</text>
<text class="lb" style="fill:#1c0a18;stroke:#1c0a18;stroke-width:2.80" x="402" y="268.6" font-size="21.4" textLength="22.5" lengthAdjust="spacingAndGlyphs">45</text>
<text class="lb" style="fill:#1c0a18;stroke:#1c0a18;stroke-width:2.80" x="604" y="381.4" font-size="21.4" textLength="36" lengthAdjust="spacingAndGlyphs">54.6</text>
<text class="lb" style="fill:#1c0a18;stroke:#1c0a18;stroke-width:2.42" x="557" y="285.9" font-size="16.05" textLength="29" lengthAdjust="spacingAndGlyphs">48.7</text>
<text class="lb" style="fill:#1c0a18;stroke:#1c0a18;stroke-width:2.42" x="564" y="319.4" font-size="16.05" textLength="28" lengthAdjust="spacingAndGlyphs">45.7</text>
<text class="lb" style="fill:#1c0a18;stroke:#1c0a18;stroke-width:2.50" x="554" y="352.4" font-size="17.12" textLength="30.5" lengthAdjust="spacingAndGlyphs">43.8</text>
<text class="lb" style="fill:#1c0a18;stroke:#1c0a18;stroke-width:2.22" x="401.3" y="351.4" font-size="13.16" textLength="24.3" lengthAdjust="spacingAndGlyphs">46.2</text>
<text class="lb" style="fill:#1c0a18;stroke:#1c0a18;stroke-width:2.49" x="204.7" y="385.4" font-size="16.91" textLength="29.1" lengthAdjust="spacingAndGlyphs">15.5</text>
<text class="lb" style="fill:#1c0a18;stroke:#1c0a18;stroke-width:2.78" x="265.3" y="413.4" font-size="21.08" textLength="37.9" lengthAdjust="spacingAndGlyphs">41.2</text>
<text class="lb" style="fill:#1c0a18;stroke:#1c0a18;stroke-width:2.20" x="350.6" y="429.8" font-size="12.84" textLength="22.4" lengthAdjust="spacingAndGlyphs">47.8</text>
<text class="lb" style="fill:#1c0a18;stroke:#1c0a18;stroke-width:2.21" x="346" y="451" font-size="13.05" textLength="14" lengthAdjust="spacingAndGlyphs">52</text>
<text class="lb" style="fill:#1c0a18;stroke:#1c0a18;stroke-width:2.14" x="380.6" y="469.2" font-size="11.98" textLength="22.4" lengthAdjust="spacingAndGlyphs">64.8</text>
<text class="lb" style="fill:#1c0a18;stroke:#1c0a18;stroke-width:2.99" x="402" y="449.4" font-size="24.08" textLength="39" lengthAdjust="spacingAndGlyphs">37.7</text>
<text class="lb" style="fill:#1c0a18;stroke:#1c0a18;stroke-width:2.95" x="507.5" y="426.4" font-size="23.54" textLength="38.5" lengthAdjust="spacingAndGlyphs">32.7</text>
<text class="lb" style="fill:#1c0a18;stroke:#1c0a18;stroke-width:2.42" x="471" y="473" font-size="16.05" textLength="29" lengthAdjust="spacingAndGlyphs">44.6</text>
<text class="lb" style="fill:#1c0a18;stroke:#1c0a18;stroke-width:2.50" x="464" y="515.4" font-size="17.12" textLength="28" lengthAdjust="spacingAndGlyphs">35.1</text>
<text class="lb" style="fill:#1c0a18;stroke:#1c0a18;stroke-width:2.31" x="524" y="487.4" font-size="14.45" textLength="26" lengthAdjust="spacingAndGlyphs">30.7</text>
<text class="lb" style="fill:#1c0a18;stroke:#1c0a18;stroke-width:2.58" x="524" y="519.9" font-size="18.19" textLength="31" lengthAdjust="spacingAndGlyphs">33.4</text>
<text class="lb" style="fill:#1c0a18;stroke:#1c0a18;stroke-width:2.35" x="380" y="526.9" font-size="14.98" textLength="28" lengthAdjust="spacingAndGlyphs">40.6</text>
<text class="lb" style="fill:#1c0a18;stroke:#1c0a18;stroke-width:2.92" x="311.5" y="533" font-size="23.11" textLength="23.2" lengthAdjust="spacingAndGlyphs">55</text>
<text class="lb" style="fill:#1c0a18;stroke:#1c0a18;stroke-width:2.95" x="199.5" y="645.9" font-size="23.54" textLength="40" lengthAdjust="spacingAndGlyphs">57.5</text>
<text class="lb" style="fill:#1c0a18;stroke:#1c0a18;stroke-width:2.39" x="139.5" y="633.4" font-size="15.52" textLength="27.5" lengthAdjust="spacingAndGlyphs">58.7</text>
<text class="lb" style="fill:#1c0a18;stroke:#1c0a18;stroke-width:2.62" x="439.2" y="607.4" font-size="18.83" textLength="33.7" lengthAdjust="spacingAndGlyphs">45.2</text>
<text class="lb" style="fill:#1c0a18;stroke:#1c0a18;stroke-width:2.16" x="469.5" y="542.4" font-size="12.31" textLength="21.5" lengthAdjust="spacingAndGlyphs">32.3</text>
<text class="lb" style="fill:#1c0a18;stroke:#1c0a18;stroke-width:2.35" x="497" y="548.4" font-size="14.98" textLength="23" lengthAdjust="spacingAndGlyphs">30.7</text>
<text class="lb" style="fill:#1c0a18;stroke:#1c0a18;stroke-width:2.58" x="554.5" y="570.4" font-size="18.19" textLength="29.5" lengthAdjust="spacingAndGlyphs">27.5</text>
<text class="lb" style="fill:#1c0a18;stroke:#1c0a18;stroke-width:2.95" x="597.5" y="531.4" font-size="23.54" textLength="37.5" lengthAdjust="spacingAndGlyphs">21.5</text>
<text class="lb" style="fill:#1c0a18;stroke:#1c0a18;stroke-width:2.73" x="616" y="590.9" font-size="20.33" textLength="33.5" lengthAdjust="spacingAndGlyphs">36.6</text>
<text class="lb" style="fill:#1c0a18;stroke:#1c0a18;stroke-width:2.20" x="539" y="599.4" font-size="12.84" textLength="22" lengthAdjust="spacingAndGlyphs">25.6</text>
<text class="lb" style="fill:#1c0a18;stroke:#1c0a18;stroke-width:2.20" x="565" y="599.4" font-size="12.84" textLength="16" lengthAdjust="spacingAndGlyphs">5.9</text>
<text class="lb" style="fill:#1c0a18;stroke:#1c0a18;stroke-width:2.27" x="581" y="615.9" font-size="13.91" textLength="13.5" lengthAdjust="spacingAndGlyphs">12</text>
<text class="lb" style="fill:#1c0a18;stroke:#1c0a18;stroke-width:2.42" x="556" y="631.4" font-size="16.05" textLength="14" lengthAdjust="spacingAndGlyphs">21</text>
<text class="lb" style="fill:#1c0a18;stroke:#1c0a18;stroke-width:2.54" x="579.5" y="656.4" font-size="17.66" textLength="29.5" lengthAdjust="spacingAndGlyphs">38.3</text>
<text class="lb" style="fill:#1c0a18;stroke:#1c0a18;stroke-width:2.95" x="720.5" y="642.4" font-size="23.54" textLength="41.5" lengthAdjust="spacingAndGlyphs">25.7</text>
<text class="lb" style="fill:#1c0a18;stroke:#1c0a18;stroke-width:2.24" x="645" y="489.4" font-size="13.38" textLength="24" lengthAdjust="spacingAndGlyphs">48.2</text>
<text class="lb" style="fill:#555;stroke:#555;stroke-width:2.24" x="745.5" y="714.4" font-size="13.38" textLength="22.5" lengthAdjust="spacingAndGlyphs">32.8</text>
<text class="lb" style="fill:#555;stroke:#555;stroke-width:2.12" x="492.6" y="742.4" font-size="11.77" textLength="22.4" lengthAdjust="spacingAndGlyphs">12.3</text>
</g>
<text class="lb" x="691" y="277.4" font-size="28.89" textLength="51.5" lengthAdjust="spacingAndGlyphs">65.6</text>
<text class="lb" x="648.5" y="451.4" font-size="22.47" textLength="39.5" lengthAdjust="spacingAndGlyphs">67.4</text>
<text class="lb" x="542" y="215.4" font-size="22.47" textLength="39" lengthAdjust="spacingAndGlyphs">55.2</text>
<text class="lb" x="446.5" y="230.9" font-size="21.4" textLength="35" lengthAdjust="spacingAndGlyphs">49.1</text>
<text class="lb" x="402" y="268.6" font-size="21.4" textLength="22.5" lengthAdjust="spacingAndGlyphs">45</text>
<text class="lb" x="604" y="381.4" font-size="21.4" textLength="36" lengthAdjust="spacingAndGlyphs">54.6</text>
<text class="lb" x="557" y="285.9" font-size="16.05" textLength="29" lengthAdjust="spacingAndGlyphs">48.7</text>
<text class="lb" x="564" y="319.4" font-size="16.05" textLength="28" lengthAdjust="spacingAndGlyphs">45.7</text>
<text class="lb" x="554" y="352.4" font-size="17.12" textLength="30.5" lengthAdjust="spacingAndGlyphs">43.8</text>
<text class="lb" x="401.3" y="351.4" font-size="13.16" textLength="24.3" lengthAdjust="spacingAndGlyphs">46.2</text>
<text class="lb" x="204.7" y="385.4" font-size="16.91" textLength="29.1" lengthAdjust="spacingAndGlyphs">15.5</text>
<text class="lb" x="265.3" y="413.4" font-size="21.08" textLength="37.9" lengthAdjust="spacingAndGlyphs">41.2</text>
<text class="lb" x="350.6" y="429.8" font-size="12.84" textLength="22.4" lengthAdjust="spacingAndGlyphs">47.8</text>
<text class="lb" x="346" y="451" font-size="13.05" textLength="14" lengthAdjust="spacingAndGlyphs">52</text>
<text class="lb" x="380.6" y="469.2" font-size="11.98" textLength="22.4" lengthAdjust="spacingAndGlyphs">64.8</text>
<text class="lb" x="402" y="449.4" font-size="24.08" textLength="39" lengthAdjust="spacingAndGlyphs">37.7</text>
<text class="lb" x="507.5" y="426.4" font-size="23.54" textLength="38.5" lengthAdjust="spacingAndGlyphs">32.7</text>
<text class="lb" x="471" y="473" font-size="16.05" textLength="29" lengthAdjust="spacingAndGlyphs">44.6</text>
<text class="lb" x="464" y="515.4" font-size="17.12" textLength="28" lengthAdjust="spacingAndGlyphs">35.1</text>
<text class="lb" x="524" y="487.4" font-size="14.45" textLength="26" lengthAdjust="spacingAndGlyphs">30.7</text>
<text class="lb" x="524" y="519.9" font-size="18.19" textLength="31" lengthAdjust="spacingAndGlyphs">33.4</text>
<text class="lb" x="380" y="526.9" font-size="14.98" textLength="28" lengthAdjust="spacingAndGlyphs">40.6</text>
<text class="lb" x="311.5" y="533" font-size="23.11" textLength="23.2" lengthAdjust="spacingAndGlyphs">55</text>
<text class="lb" x="199.5" y="645.9" font-size="23.54" textLength="40" lengthAdjust="spacingAndGlyphs">57.5</text>
<text class="lb" x="139.5" y="633.4" font-size="15.52" textLength="27.5" lengthAdjust="spacingAndGlyphs">58.7</text>
<text class="lb" x="439.2" y="607.4" font-size="18.83" textLength="33.7" lengthAdjust="spacingAndGlyphs">45.2</text>
<text class="lb" x="469.5" y="542.4" font-size="12.31" textLength="21.5" lengthAdjust="spacingAndGlyphs">32.3</text>
<text class="lb" x="497" y="548.4" font-size="14.98" textLength="23" lengthAdjust="spacingAndGlyphs">30.7</text>
<text class="lb" x="554.5" y="570.4" font-size="18.19" textLength="29.5" lengthAdjust="spacingAndGlyphs">27.5</text>
<text class="lb" x="597.5" y="531.4" font-size="23.54" textLength="37.5" lengthAdjust="spacingAndGlyphs">21.5</text>
<text class="lb" x="616" y="590.9" font-size="20.33" textLength="33.5" lengthAdjust="spacingAndGlyphs">36.6</text>
<text class="lb" x="539" y="599.4" font-size="12.84" textLength="22" lengthAdjust="spacingAndGlyphs">25.6</text>
<text class="lb" x="565" y="599.4" font-size="12.84" textLength="16" lengthAdjust="spacingAndGlyphs">5.9</text>
<text class="lb" x="581" y="615.9" font-size="13.91" textLength="13.5" lengthAdjust="spacingAndGlyphs">12</text>
<text class="lb" x="556" y="631.4" font-size="16.05" textLength="14" lengthAdjust="spacingAndGlyphs">21</text>
<text class="lb" x="579.5" y="656.4" font-size="17.66" textLength="29.5" lengthAdjust="spacingAndGlyphs">38.3</text>
<text class="lb" x="720.5" y="642.4" font-size="23.54" textLength="41.5" lengthAdjust="spacingAndGlyphs">25.7</text>
<text class="lb" x="645" y="489.4" font-size="13.38" textLength="24" lengthAdjust="spacingAndGlyphs">48.2</text>
<text class="lb" x="745.5" y="714.4" font-size="13.38" textLength="22.5" lengthAdjust="spacingAndGlyphs">32.8</text>
<text class="lb" x="492.6" y="742.4" font-size="11.77" textLength="22.4" lengthAdjust="spacingAndGlyphs">12.3</text>

<!-- title bar -->
<g filter="url(#sh)"><rect x="-5" y="21" width="413" height="55" fill="#1f9684"/></g>
<rect x="-4" y="21" width="412" height="50.5" rx="1.5" fill="#6a6b70"/>
<rect x="0" y="21" width="17.5" height="50.5" fill="#10b898"/>
<text x="29" y="59" font-family="Liberation Sans, sans-serif" font-weight="bold" font-size="36" fill="#fff" textLength="209" lengthAdjust="spacingAndGlyphs">Divorce rate</text>
<!-- legend -->
<text class="lt" x="85" y="183.5" textLength="107" lengthAdjust="spacingAndGlyphs">Divorces per</text>
<text class="lt" x="85.5" y="206" textLength="119" lengthAdjust="spacingAndGlyphs">100 marriages</text>
<rect x="20.5" y="220.5" width="52" height="25" rx="2" fill="#f2eda2"/>
<rect x="20.5" y="259.8" width="52" height="25" rx="2" fill="#dfbfa1"/>
<rect x="20.5" y="299.2" width="52" height="25" rx="2" fill="#cc9399"/>
<rect x="20.5" y="338.8" width="52" height="25.5" rx="2" fill="#b05492"/>
<rect x="20.5" y="378.4" width="52" height="25.5" rx="2" fill="#8b0081"/>
<rect x="20.5" y="418" width="52" height="25.5" rx="2" fill="#53004e"/>
<text class="lg" x="142.5" y="240">0 - 20</text>
<text class="lg" x="142.5" y="279.5">20 - 30</text>
<text class="lg" x="142.5" y="319">30 - 40</text>
<text class="lg" x="142.5" y="358.8">40 - 50</text>
<text class="lg" x="142.5" y="398.3">50 - 60</text>
<text class="lg" x="142.5" y="437.8">60 - 70</text>
<!-- source -->
<text class="so" x="20" y="737" textLength="283" lengthAdjust="spacingAndGlyphs">Source: Eurostat, 2018 &amp; Federal State Statistics Service, 2018</text>
<!-- note -->
<text class="nt" x="678" y="154.3" textLength="21" lengthAdjust="spacingAndGlyphs">Note:</text>
<text class="nt" x="678" y="167.5" textLength="140" lengthAdjust="spacingAndGlyphs">Data for Belgium, Cyprus, Germany,</text>
<text class="nt" x="678" y="179.8" textLength="127" lengthAdjust="spacingAndGlyphs">Greece and Ireland is from 2017.</text>
<text class="nt" x="678" y="192.5" textLength="139" lengthAdjust="spacingAndGlyphs">Data from France, Moldova and the</text>
<text class="nt" x="678" y="204.6" textLength="66" lengthAdjust="spacingAndGlyphs">UK is from 2016.</text>
<!-- socials -->
<text class="tw" x="695.5" y="35.5" font-size="18.5" textLength="127.5" lengthAdjust="spacingAndGlyphs">Landgeist.com</text>
<text class="tw" x="697" y="59" textLength="96" lengthAdjust="spacingAndGlyphs">@Land_geist</text>
<text class="tw" x="697" y="84.5" textLength="87" lengthAdjust="spacingAndGlyphs">@Landgeist</text>
<circle cx="675" cy="29.5" r="9.5" fill="#2a1a3a"/>
<circle cx="676.2" cy="31.5" r="9.6" fill="#27ab9b"/>
<path d="M669.5,29 q2,-4.5 6,-4 q-.5,2 1.5,3 q1.5,-1.5 3.5,0 l1.5,-2 q2,3 0,6 q-1,-3 -3,-2.5 q-2.5,-.5 -4,1.5 q1,3 -1,5 q-5,-2 -6,-7z" fill="#8feee2"/>
<rect x="666.5" y="46" width="16" height="16" rx="3.5" fill="#fff" stroke="#1d1d1d" stroke-width="1.8"/>
<circle cx="674.5" cy="54" r="3.6" fill="none" stroke="#1d1d1d" stroke-width="1.6"/>
<circle cx="679" cy="49.5" r="1" fill="#1d1d1d"/>
<circle cx="674.5" cy="79.5" r="8.6" fill="#2b2b2f"/>
<path transform="translate(.5,.5)" d="M669,82.5 q4,1 6,-1 q-3,0 -5,-5 q2,2 4.5,2 q-1,-4 2.5,-4.5 q1.5,0 2.5,1 l2,-.6 l-1,1.6 l1.5,-.3 l-1.5,1.6 q0,6 -6,7.5 q-3.5,.5 -6,-1.3z" fill="#fff"/>

</svg></body></html>
